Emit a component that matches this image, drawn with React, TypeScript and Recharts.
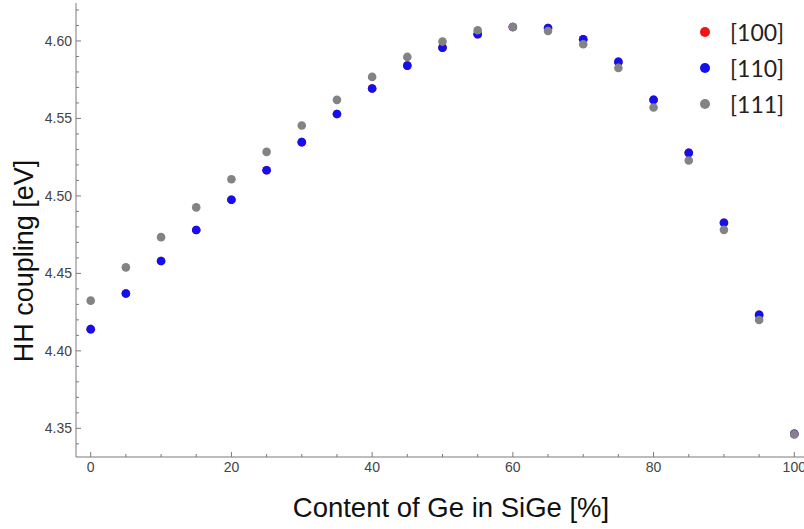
import { ScatterChart, Scatter, XAxis, YAxis } from 'recharts'

// Ge content in SiGe [%]
const geContent = [0, 5, 10, 15, 20, 25, 30, 35, 40, 45, 50, 55, 60, 65, 70, 75, 80, 85, 90, 95, 100]

// HH coupling [eV] per direction ([100] sits under [110] in the plot)
const hh100 = [4.414, 4.437, 4.458, 4.478, 4.4975, 4.5166, 4.5347, 4.5529, 4.5693, 4.5841, 4.5957, 4.6043, 4.609, 4.6084, 4.6011, 4.5865, 4.562, 4.5278, 4.4827, 4.4232, 4.3464]
const hh110 = [4.414, 4.437, 4.458, 4.478, 4.4975, 4.5166, 4.5347, 4.5529, 4.5693, 4.5841, 4.5957, 4.6043, 4.609, 4.6084, 4.6011, 4.5865, 4.562, 4.5278, 4.4827, 4.4232, 4.3464]
const hh111 = [4.4324, 4.4539, 4.4734, 4.4926, 4.5108, 4.5284, 4.5454, 4.562, 4.5768, 4.5897, 4.5996, 4.6069, 4.609, 4.6064, 4.5979, 4.5826, 4.5571, 4.5229, 4.4781, 4.4199, 4.3461]

const xTicks = [0, 5, 10, 15, 20, 25, 30, 35, 40, 45, 50, 55, 60, 65, 70, 75, 80, 85, 90, 95, 100]
const yTicks = [4.34, 4.35, 4.36, 4.37, 4.38, 4.39, 4.4, 4.41, 4.42, 4.43, 4.44, 4.45, 4.46, 4.47, 4.48, 4.49, 4.5, 4.51, 4.52, 4.53, 4.54, 4.55, 4.56, 4.57, 4.58, 4.59, 4.6, 4.61, 4.62]

const series = [
  { name: '[100]', color: '#f01414', values: hh100 },
  { name: '[110]', color: '#1010f0', values: hh110 },
  { name: '[111]', color: '#838383', values: hh111 },
]

const frame = '#7a7a7a'
const tickFont = 'Liberation Sans, Arial, sans-serif'

const isMajorX = (v: number) => v % 20 === 0
const isMajorY = (v: number) => Math.abs(v * 20 - Math.round(v * 20)) < 1e-6

const BottomTick = (props: any) => {
  const { x, y, payload } = props
  const major = isMajorX(payload.value)
  return (
    <g>
      <line x1={x} y1={y} x2={x} y2={y - (major ? 5 : 3)} stroke={frame} />
      {major && (
        <text x={x} y={y + 15} textAnchor="middle" fill="#444" fontSize={14} fontFamily={tickFont}>
          {payload.value}
        </text>
      )}
    </g>
  )
}

const TopTick = (props: any) => {
  const { x, y, payload } = props
  const major = isMajorX(payload.value)
  return <line x1={x} y1={y} x2={x} y2={y + (major ? 5 : 3)} stroke={frame} />
}

const LeftTick = (props: any) => {
  const { x, y, payload } = props
  const major = isMajorY(payload.value)
  return (
    <g>
      <line x1={x} y1={y} x2={x + (major ? 5 : 3)} y2={y} stroke={frame} />
      {major && (
        <text x={x - 4} y={y + 5} textAnchor="end" fill="#444" fontSize={14} fontFamily={tickFont}>
          {payload.value.toFixed(2)}
        </text>
      )}
    </g>
  )
}

// legend drawn as an overlay so it does not shrink the plot area
const LegendBox = () => (
  <div
    style={{
      position: 'absolute',
      left: 700,
      top: 14,
      fontFamily: 'Lato, sans-serif',
      fontSize: 23,
      color: '#222',
      background: '#fff',
    }}
  >
    {series.map((s) => (
      <div key={s.name} style={{ display: 'flex', alignItems: 'center', height: 36 }}>
        <span
          style={{
            display: 'inline-block',
            width: 10,
            height: 10,
            borderRadius: 5,
            background: s.color,
            marginRight: 20,
          }}
        />
        <span>{s.name}</span>
      </div>
    ))}
  </div>
)

export default function App() {
  return (
    <div style={{ position: 'absolute', left: 0, top: 0, width: 804, height: 529, overflow: 'hidden', background: '#fff' }}>
      <ScatterChart width={812} height={529} margin={{ top: 3, right: 3, left: 0, bottom: 0 }}>
        <XAxis
          type="number"
          dataKey="x"
          domain={[-2.09, 102.09]}
          ticks={xTicks}
          interval={0}
          allowDataOverflow
          height={72}
          stroke={frame}
          tickLine={false}
          tickSize={0}
          tickMargin={0}
          tick={BottomTick}
          label={{
            content: () => (
              <text x={451} y={517} textAnchor="middle" fontSize={27.5} fill="#111" fontFamily={tickFont}>
                Content of Ge in SiGe [%]
              </text>
            ),
          }}
        />
        <XAxis
          xAxisId="top"
          orientation="top"
          type="number"
          domain={[-2.09, 102.09]}
          ticks={xTicks}
          interval={0}
          allowDataOverflow
          height={0}
          stroke={frame}
          tickLine={false}
          tickSize={0}
          tickMargin={0}
          tick={TopTick}
        />
        <YAxis
          type="number"
          dataKey="y"
          domain={[4.3315, 4.6245]}
          ticks={yTicks}
          interval={0}
          allowDataOverflow
          width={76}
          stroke={frame}
          tickLine={false}
          tickSize={0}
          tickMargin={0}
          tick={LeftTick}
          label={{
            content: () => (
              <text
                x={33}
                y={261}
                transform="rotate(-90 33 261)"
                textAnchor="middle"
                fontSize={27}
                fill="#111"
                fontFamily={tickFont}
              >
                HH coupling [eV]
              </text>
            ),
          }}
        />
        {series.map((s) => (
          <Scatter
            key={s.name}
            name={s.name}
            data={geContent.map((g, i) => ({ x: g, y: s.values[i] }))}
            fill={s.color}
            isAnimationActive={false}
            shape={(p: any) => <circle cx={p.cx} cy={p.cy} r={4.3} fill={s.color} />}
          />
        ))}
      </ScatterChart>
      <LegendBox />
    </div>
  )
}
